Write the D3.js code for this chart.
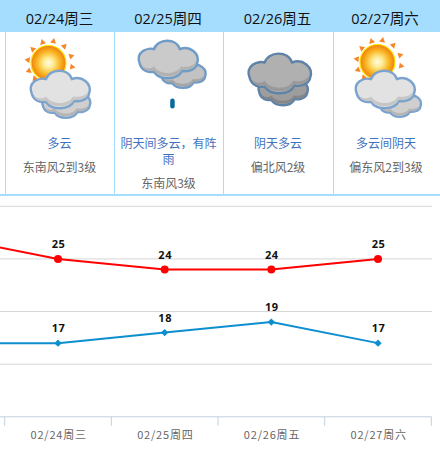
<!DOCTYPE html>
<html><head><meta charset="utf-8">
<script src="https://cdn.jsdelivr.net/npm/d3@7/dist/d3.min.js"></script>
<style>html,body{margin:0;padding:0;background:#fff}svg{display:block}</style>
</head><body><svg id="c" width="440" height="453"></svg>
<script>
const dates=["02/24周三","02/25周四","02/26周五","02/27周六"];
const weather=[["多云"],["阴天间多云，有阵","雨"],["阴天多云"],["多云间阴天"]];
const winds=["东南风2到3级","东南风3级","偏北风2级","偏东风2到3级"];
const icons=["partly","shower","overcast","partly2"];
const highs=[25,24,24,25];
const lows=[17,18,19,17];
const highPrev=27, lowPrev=17;
const yTicks=[10,15,20,25,30];

const svg=d3.select("#c");
const font='"Noto Sans CJK SC","Noto Sans",sans-serif';
const headFont='"Open Sans","Noto Sans CJK SC",sans-serif';
const W=440;
const defs=svg.append("defs");
const sg=defs.append("radialGradient").attr("id","sun");
[[0,"#fffbe6"],[.3,"#fdeb90"],[.68,"#f9b320"],[1,"#ef7d12"]].forEach(d=>sg.append("stop").attr("offset",d[0]).attr("stop-color",d[1]));

// header
svg.append("rect").attr("width",W).attr("height",32).attr("fill","#a5ddff");
svg.append("rect").attr("y",194).attr("width",W).attr("height",2).attr("fill","#a5ddff");
svg.selectAll("line.col").data([5.5,114.5,223.5,333.5]).join("line").attr("x1",d=>d).attr("x2",d=>d).attr("y1",32).attr("y2",194).attr("stroke","#a5ddff");
const headX=[59.5,168,277.5,385];
svg.selectAll("text.h").data(dates).join("text").attr("class","h").attr("x",(d,i)=>headX[i]).attr("y",24).attr("text-anchor","middle").attr("font-family",headFont).attr("font-size",14.5).attr("fill","#111").text(d=>d);

// icons
function cloud(g,x,y,s,fill,shade,stroke){
  const p=g.append("g").attr("transform",`translate(${x},${y}) scale(${s})`);
  const d="M-26,4 C-31,-8 -18,-12 -13,-10 C-10,-20 8,-21 11,-10 C20,-14 30,-6 27,3 C26,10 16,11 13,10 C9,19 -8,19 -13,11 C-18,12 -24,10 -26,4Z";
  p.append("path").attr("d",d).attr("fill",fill).attr("stroke",stroke).attr("stroke-width",2.4/s).attr("stroke-linejoin","round");
  p.append("path").attr("d","M-24,5 C-20,9 -15,8 -13,6 C-8,14 8,14 12,6 C17,7 24,6 26,1 C26,9 16,10 13,9 C9,17 -8,17 -13,10 C-18,11 -23,9 -24,5Z").attr("fill",shade);
}
function sun(g,x,y){
  const rays=[[-21,-3],[-16,-14],[-6,-21],[5,-22],[16,-17],[23,-7],[24,4],[-20,8],[-14,16]];
  rays.forEach(d=>g.append("path").attr("d","M3,0 L-2.2,-3 L-2.2,3Z").attr("transform",`translate(${x+d[0]},${y+d[1]}) rotate(${Math.atan2(d[1],d[0])*180/Math.PI})`).attr("fill","#f6862a"));
  g.append("circle").attr("cx",x).attr("cy",y).attr("r",17.5).attr("fill","url(#sun)").attr("stroke","#ffe600").attr("stroke-width",1.2);
}
const blue="#7ba3cd";
const iconDraw={
  partly(g){sun(g,48.5,63);cloud(g,66,103,.88,"#cfcfcf","#b5b5b5",blue);cloud(g,60,90,1.08,"#e2e2e2","#c6c6c6",blue);},
  partly2(g){sun(g,377.5,62);cloud(g,400,104,.76,"#cfcfcf","#b5b5b5",blue);cloud(g,385,90,1.08,"#e2e2e2","#c6c6c6",blue);},
  shower(g){cloud(g,183,74,.82,"#c2c2c2","#a6a6a6","#6f9cc7");cloud(g,168,60,1.08,"#cacaca","#b2b2b2","#6f9cc7");
    g.append("rect").attr("x",170.2).attr("y",98.5).attr("width",4.5).attr("height",10).attr("rx",2.2).attr("fill","#0a6a9e");},
  overcast(g){cloud(g,283,90,.9,"#9d9d9d","#868686","#5f83a8");cloud(g,279.5,74,1.14,"#b0b0b0","#9a9a9a","#5f83a8");}
};
icons.forEach(k=>iconDraw[k](svg.append("g")));

// weather texts
const descX=[59.5,168.5,278,386];
weather.forEach((lines,i)=>{
  lines.forEach((t,j)=>svg.append("text").attr("x",descX[i]).attr("y",147.5+j*16).attr("text-anchor","middle").attr("font-family",font).attr("font-size",12).attr("fill","#3f72c0").text(t));
  svg.append("text").attr("x",descX[i]).attr("y",lines.length>1?187.5:171.5).attr("text-anchor","middle").attr("font-family",font).attr("font-size",12).attr("fill","#666").text(winds[i]);
});

// chart
const x=d3.scalePoint().domain(dates).range([58,378]);
const step=x.step();
const y=d3.scaleLinear().domain([10,30]).range([416.8,206.3]);
svg.append("g").selectAll("line").data(yTicks.slice(1)).join("line").attr("x1",0).attr("x2",432).attr("y1",d=>y(d)).attr("y2",d=>y(d)).attr("stroke","#d6d6d6").attr("stroke-width",1);
const axisLeft=x(dates[0])-step/2;
const axisG=svg.append("g").attr("transform",`translate(0,${y(10)})`);
axisG.append("line").attr("x1",0).attr("x2",431.5).attr("stroke","#c0d0e0");
const tickXs=[0,1,2,3,4].map(i=>axisLeft+i*step);
axisG.selectAll("line.t").data(tickXs).join("line").attr("class","t").attr("x1",d=>d).attr("x2",d=>d).attr("y1",0).attr("y2",9).attr("stroke","#c0d0e0");
axisG.selectAll("text").data(dates).join("text").attr("x",d=>x(d)+.7).attr("y",22.5).attr("text-anchor","middle").attr("font-family",font).attr("font-size",11).attr("letter-spacing",".8").attr("fill","#666").text(d=>d);

const line=d3.line().x(d=>d.x).y(d=>y(d.v));
function series(vals,prev,color){
  const pts=[{x:x(dates[0])-step,v:prev},...vals.map((v,i)=>({x:x(dates[i]),v}))];
  svg.append("path").attr("d",line(pts)).attr("fill","none").attr("stroke",color).attr("stroke-width",2);
  return pts.slice(1);
}
const hp=series(highs,highPrev,"#ff0000");
const lp=series(lows,lowPrev,"#0d8ecf");
svg.selectAll("circle.hi").data(hp).join("circle").attr("cx",d=>d.x).attr("cy",d=>y(d.v)).attr("r",4).attr("fill","#ff0000");
svg.selectAll("path.lo").data(lp).join("path").attr("d",d3.symbol(d3.symbolDiamond2,34)).attr("transform",d=>`translate(${d.x},${y(d.v)})`).attr("fill","#0d8ecf");
[...hp,...lp].forEach(d=>svg.append("text").attr("x",d.x+.5).attr("y",y(d.v)-10.7).attr("text-anchor","middle").attr("font-family",'"Open Sans",sans-serif').attr("font-weight","bold").attr("font-size",11).attr("letter-spacing",".5").attr("fill","#111").text(d.v));
</script></body></html>
